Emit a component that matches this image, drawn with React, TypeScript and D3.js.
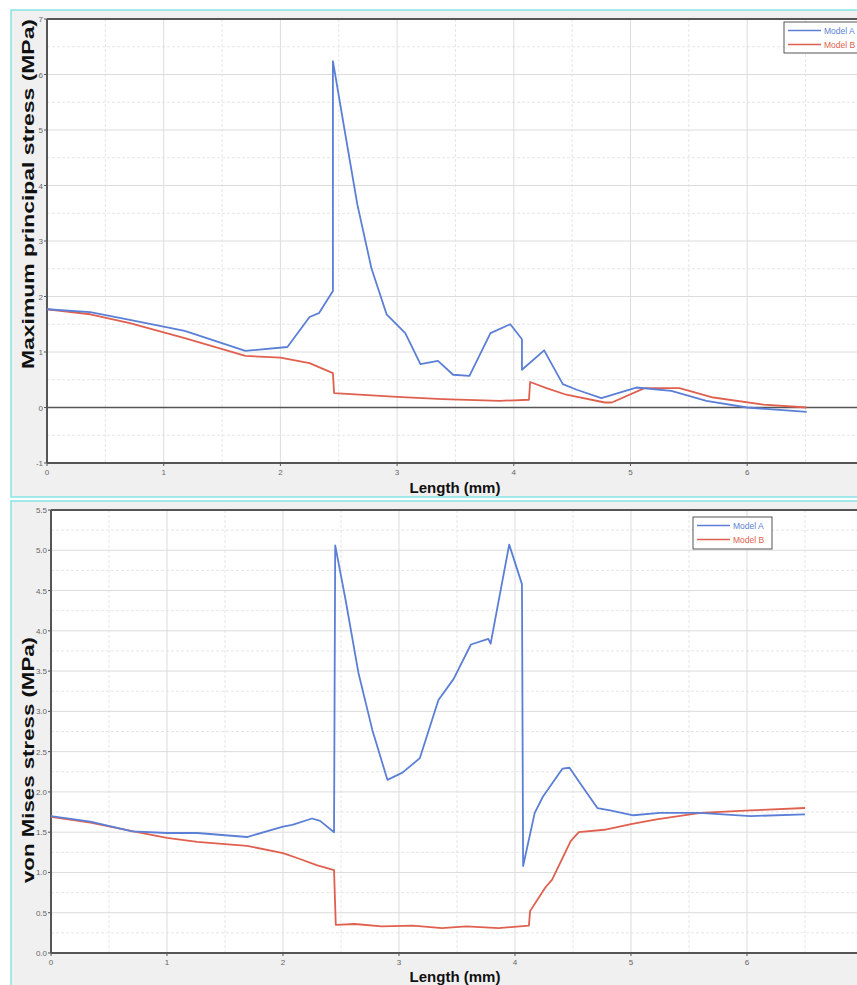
import React from "react";
import * as d3 from "d3";

// ---------- Data ----------
const topA_x = [0, 0.37, 0.71, 1.18, 1.70, 2.06, 2.25, 2.33, 2.45, 2.45, 2.55, 2.66, 2.78, 2.91, 3.07, 3.20, 3.35, 3.48, 3.62, 3.80, 3.97, 4.07, 4.07, 4.26, 4.42, 4.54, 4.75, 5.05, 5.35, 5.65, 6.0, 6.51];
const topA_y = [1.77, 1.72, 1.58, 1.38, 1.02, 1.09, 1.63, 1.70, 2.10, 6.24, 5.0, 3.65, 2.51, 1.68, 1.34, 0.78, 0.84, 0.59, 0.57, 1.34, 1.50, 1.23, 0.68, 1.03, 0.42, 0.32, 0.17, 0.36, 0.30, 0.12, 0.0, -0.08];
const topB_x = [0, 0.37, 0.71, 1.18, 1.70, 2.0, 2.25, 2.45, 2.46, 3.0, 3.39, 3.88, 4.13, 4.14, 4.28, 4.45, 4.78, 4.84, 5.12, 5.42, 5.71, 6.14, 6.51];
const topB_y = [1.77, 1.68, 1.52, 1.25, 0.93, 0.90, 0.80, 0.62, 0.26, 0.19, 0.15, 0.12, 0.14, 0.46, 0.35, 0.23, 0.09, 0.09, 0.35, 0.35, 0.18, 0.05, 0.0];

const botA_x = [0, 0.34, 0.70, 1.0, 1.26, 1.69, 2.0, 2.08, 2.25, 2.32, 2.44, 2.45, 2.54, 2.65, 2.77, 2.90, 3.03, 3.18, 3.34, 3.47, 3.62, 3.77, 3.79, 3.95, 4.06, 4.07, 4.17, 4.24, 4.41, 4.47, 4.56, 4.71, 4.82, 5.02, 5.25, 5.59, 6.03, 6.50];
const botA_y = [1.70, 1.63, 1.51, 1.49, 1.49, 1.44, 1.57, 1.59, 1.67, 1.64, 1.50, 5.06, 4.38, 3.48, 2.77, 2.15, 2.24, 2.42, 3.14, 3.40, 3.83, 3.90, 3.84, 5.07, 4.58, 1.08, 1.74, 1.94, 2.29, 2.30, 2.11, 1.80, 1.77, 1.71, 1.74, 1.74, 1.70, 1.72];
const botB_x = [0, 0.34, 0.71, 1.0, 1.26, 1.69, 2.0, 2.14, 2.29, 2.44, 2.455, 2.62, 2.85, 3.12, 3.37, 3.58, 3.86, 4.12, 4.13, 4.26, 4.32, 4.48, 4.55, 4.77, 5.0, 5.22, 5.6, 6.03, 6.5];
const botB_y = [1.69, 1.62, 1.51, 1.43, 1.38, 1.33, 1.24, 1.17, 1.09, 1.03, 0.35, 0.36, 0.33, 0.34, 0.31, 0.33, 0.31, 0.34, 0.52, 0.81, 0.91, 1.39, 1.50, 1.53, 1.60, 1.66, 1.74, 1.77, 1.80];

const xTicks = [0, 1, 2, 3, 4, 5, 6];
const topYTicks = [-1, 0, 1, 2, 3, 4, 5, 6, 7];
const botYTicks = [0, 0.5, 1, 1.5, 2, 2.5, 3, 3.5, 4, 4.5, 5, 5.5];
const seriesNames = ["Model A", "Model B"];

const BLUE = "#5b7fd6";
const RED = "#e0604f";
const CYAN = "#86e4e4";
const AXIS = "#555";
const FONT = "'Liberation Sans', Arial, sans-serif";

type PanelProps = {
  frameY: number;
  frameH: number;
  x0: number;
  xUnit: number;
  yTop: number;
  yBot: number;
  yDomain: [number, number];
  yTicks: number[];
  yMinorStep: number;
  fmt: (v: number) => string;
  ax: number[]; ay: number[]; bx: number[]; by: number[];
  yTitle: string;
  yTitleCenter: number;
  yTitleLen: number;
  xTitleY: number;
  legend: { x: number; y: number; w: number; h: number };
  zeroLine: boolean;
};

function Panel(p: PanelProps) {
  const x = d3.scaleLinear().domain([0, 7]).range([p.x0, p.x0 + 7 * p.xUnit]);
  const y = d3.scaleLinear().domain(p.yDomain).range([p.yBot, p.yTop]);
  const line = d3.line<[number, number]>().x(d => x(d[0])).y(d => y(d[1]));
  const ptsA = p.ax.map((v, i) => [v, p.ay[i]] as [number, number]);
  const ptsB = p.bx.map((v, i) => [v, p.by[i]] as [number, number]);
  const minorX = d3.range(0.5, 7, 1);
  const minorY: number[] = [];
  for (let v = p.yDomain[0] + p.yMinorStep; v < p.yDomain[1]; v += p.yMinorStep * 2) minorY.push(v);
  const xR = x(7);
  const L = p.legend;
  return (
    <g>
      <rect x={11} y={p.frameY} width={900} height={p.frameH} fill="#f0f0f0" stroke={CYAN} strokeWidth={1.5} />
      <rect x={p.x0} y={p.yTop} width={xR - p.x0} height={p.yBot - p.yTop} fill="#fff" />
      {minorX.map(v => (
        <line key={"mx" + v} x1={x(v)} x2={x(v)} y1={p.yTop} y2={p.yBot} stroke="#e6e6e6" strokeDasharray="3,2" />
      ))}
      {minorY.map(v => (
        <line key={"my" + v} x1={p.x0} x2={xR} y1={y(v)} y2={y(v)} stroke="#e6e6e6" strokeDasharray="3,2" />
      ))}
      {xTicks.map(v => (
        <line key={"gx" + v} x1={x(v)} x2={x(v)} y1={p.yTop} y2={p.yBot} stroke="#dcdcdc" />
      ))}
      {p.yTicks.map(v => (
        <line key={"gy" + v} x1={p.x0} x2={xR} y1={y(v)} y2={y(v)} stroke="#dcdcdc" />
      ))}
      {p.zeroLine && <line x1={p.x0} x2={xR} y1={y(0)} y2={y(0)} stroke={AXIS} strokeWidth={1.6} />}
      <line x1={p.x0} x2={xR} y1={p.yTop} y2={p.yTop} stroke={AXIS} strokeWidth={2} />
      <line x1={p.x0} x2={xR} y1={p.yBot} y2={p.yBot} stroke={AXIS} strokeWidth={2} />
      <line x1={p.x0} x2={p.x0} y1={p.yTop} y2={p.yBot} stroke={AXIS} strokeWidth={2} />
      {p.yTicks.map(v => (
        <g key={"ty" + v}>
          <line x1={p.x0 - 3} x2={p.x0} y1={y(v)} y2={y(v)} stroke={AXIS} />
          <text x={p.x0 - 4} y={y(v) + 3} textAnchor="end" fontSize={8} fill="#666" fontFamily={FONT}>{p.fmt(v)}</text>
        </g>
      ))}
      {xTicks.map(v => (
        <g key={"tx" + v}>
          <line x1={x(v)} x2={x(v)} y1={p.yBot} y2={p.yBot + 3} stroke={AXIS} />
          <text x={x(v)} y={p.yBot + 12} textAnchor="middle" fontSize={8} fill="#666" fontFamily={FONT}>{v}</text>
        </g>
      ))}
      <path d={line(ptsB) || ""} fill="none" stroke={RED} strokeWidth={1.8} strokeLinejoin="round" />
      <path d={line(ptsA) || ""} fill="none" stroke={BLUE} strokeWidth={1.8} strokeLinejoin="round" />
      <text x={455} y={p.xTitleY} textAnchor="middle" fontSize={15} fontWeight="bold" fill="#111" fontFamily={FONT}>Length (mm)</text>
      <text transform={`translate(34,${p.yTitleCenter}) rotate(-90)`} textAnchor="middle" fontSize={16} fontWeight="bold" fill="#111" fontFamily={FONT}
        textLength={p.yTitleLen} lengthAdjust="spacingAndGlyphs">{p.yTitle}</text>
      <rect x={L.x} y={L.y} width={L.w} height={L.h} fill="#fff" stroke="#555" strokeWidth={1} />
      {seriesNames.map((s, i) => (
        <g key={s}>
          <line x1={L.x + 4} x2={L.x + 37} y1={L.y + 8.5 + i * 14} y2={L.y + 8.5 + i * 14} stroke={i === 0 ? BLUE : RED} strokeWidth={1.6} />
          <text x={L.x + 40} y={L.y + 11.5 + i * 14} fontSize={8.5} fill={i === 0 ? BLUE : RED} fontFamily={FONT}>{s}</text>
        </g>
      ))}
    </g>
  );
}

export default function App() {
  return (
    <svg width={857} height={985} style={{ position: "absolute", left: 0, top: 0 }}>
      <rect x={0} y={0} width={857} height={985} fill="#fff" />
      <Panel frameY={10} frameH={487} x0={47} xUnit={116.7} yTop={19} yBot={463} yDomain={[-1, 7]} yTicks={topYTicks} yMinorStep={0.5}
        fmt={v => String(v)} ax={topA_x} ay={topA_y} bx={topB_x} by={topB_y}
        yTitle="Maximum principal stress (MPa)" yTitleCenter={194} yTitleLen={350} xTitleY={493}
        legend={{ x: 784, y: 22, w: 100, h: 31 }} zeroLine={true} />
      <Panel frameY={501} frameH={520} x0={51} xUnit={116} yTop={510} yBot={953} yDomain={[0, 5.5]} yTicks={botYTicks} yMinorStep={0.25}
        fmt={v => v.toFixed(1)} ax={botA_x} ay={botA_y} bx={botB_x} by={botB_y}
        yTitle="von Mises stress (MPa)" yTitleCenter={760} yTitleLen={246} xTitleY={982}
        legend={{ x: 693, y: 517, w: 79, h: 32 }} zeroLine={false} />
    </svg>
  );
}
